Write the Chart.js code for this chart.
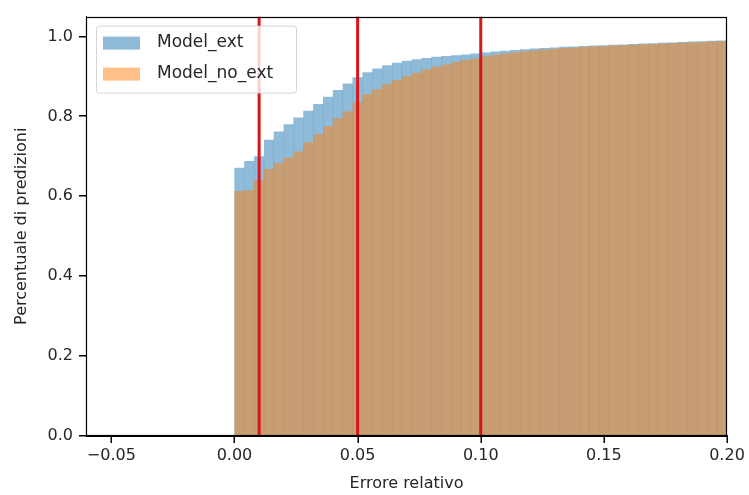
<!DOCTYPE html>
<html>
<head>
<meta charset="utf-8">
<script src="https://cdn.jsdelivr.net/npm/chart.js@4.4.1/dist/chart.umd.min.js"></script>
<style>
  body { margin: 0; background: #fff; }
  #wrap { width: 749px; height: 495px; }
</style>
</head>
<body>
<div id="wrap"><canvas id="chart" width="749" height="495"></canvas></div>
<script>
//histogram bins: width and left edges (cumulative, 50 bins from 0 to 0.2)
const binWidth = 0.004;
const binLefts = [
  0.000, 0.004, 0.008, 0.012, 0.016, 0.020, 0.024, 0.028, 0.032, 0.036,
  0.040, 0.044, 0.048, 0.052, 0.056, 0.060, 0.064, 0.068, 0.072, 0.076,
  0.080, 0.084, 0.088, 0.092, 0.096, 0.100, 0.104, 0.108, 0.112, 0.116,
  0.120, 0.124, 0.128, 0.132, 0.136, 0.140, 0.144, 0.148, 0.152, 0.156,
  0.160, 0.164, 0.168, 0.172, 0.176, 0.180, 0.184, 0.188, 0.192, 0.196
];

//cumulative share of predictions
const modelExt = [
  0.671, 0.688, 0.700, 0.741, 0.762, 0.780, 0.797, 0.814, 0.831, 0.849,
  0.866, 0.882, 0.898, 0.910, 0.920, 0.928, 0.934, 0.939, 0.943, 0.946,
  0.949, 0.951, 0.953, 0.955, 0.957, 0.960, 0.962, 0.964, 0.966, 0.968,
  0.970, 0.971, 0.972, 0.974, 0.975, 0.976, 0.977, 0.978, 0.979, 0.980,
  0.981, 0.982, 0.983, 0.984, 0.985, 0.986, 0.987, 0.988, 0.989, 0.990
];
const modelNoExt = [
  0.613, 0.615, 0.640, 0.668, 0.683, 0.697, 0.712, 0.735, 0.755, 0.775,
  0.795, 0.812, 0.835, 0.855, 0.868, 0.880, 0.891, 0.900, 0.909, 0.917,
  0.924, 0.930, 0.936, 0.941, 0.945, 0.950, 0.954, 0.957, 0.960, 0.963,
  0.965, 0.967, 0.969, 0.971, 0.972, 0.974, 0.975, 0.976, 0.977, 0.978,
  0.979, 0.980, 0.981, 0.982, 0.983, 0.984, 0.985, 0.986, 0.987, 0.988
];

//red reference lines
const thresholds = [0.01, 0.05, 0.10];

//axis ticks and limits
const xTicks = [-0.05, 0.00, 0.05, 0.10, 0.15, 0.20];
const yTicks = [0.0, 0.2, 0.4, 0.6, 0.8, 1.0];
const xMin = -0.0603, xMax = 0.20;
const yMin = 0, yMax = 1.05;

const blueFill = 'rgba(31,119,180,0.5)';
const orangeFill = 'rgba(255,127,14,0.5)';
const redLine = 'rgb(214,22,28)';
const textColor = '#262626';
const fontFamily = '"DejaVu Sans", sans-serif';

const toBars = (values) => values.map((v, i) => ({ x: binLefts[i] + binWidth / 2, y: v }));

const datasets = [
  {
    type: 'bar',
    label: 'Model_ext',
    data: toBars(modelExt),
    backgroundColor: blueFill,
    borderWidth: 0,
    barPercentage: 1,
    categoryPercentage: 1,
    inflateAmount: 0.15,
    grouped: false,
    order: 3,
  },
  {
    type: 'bar',
    label: 'Model_no_ext',
    data: toBars(modelNoExt),
    backgroundColor: orangeFill,
    borderWidth: 0,
    barPercentage: 1,
    categoryPercentage: 1,
    inflateAmount: 0.15,
    grouped: false,
    order: 2,
  },
];

thresholds.forEach((t) => {
  datasets.push({
    type: 'line',
    label: 'threshold',
    data: [{ x: t, y: yMin }, { x: t, y: yMax }],
    borderColor: redLine,
    borderWidth: 3,
    pointRadius: 0,
    fill: false,
    order: 1,
  });
});

//legend box inside the axes, matplotlib style
const innerLegend = {
  id: 'innerLegend',
  afterDatasetsDraw(chart) {
    const ctx = chart.ctx;
    const area = chart.chartArea;
    const items = chart.data.datasets.filter((d) => d.type === 'bar');
    const x0 = area.left + 10, y0 = area.top + 9;
    const w = 200, h = 67;
    ctx.save();
    ctx.fillStyle = 'rgba(255,255,255,0.8)';
    ctx.strokeStyle = 'rgba(204,204,204,0.8)';
    ctx.lineWidth = 1;
    ctx.beginPath();
    ctx.roundRect(x0 + 0.5, y0 + 0.5, w, h, 3);
    ctx.fill();
    ctx.stroke();
    ctx.font = '17px ' + fontFamily;
    ctx.textBaseline = 'middle';
    items.forEach((d, i) => {
      const cy = y0 + 17 + i * 31;
      ctx.fillStyle = d.backgroundColor;
      ctx.fillRect(x0 + 7, cy - 6, 37, 13);
      ctx.fillStyle = textColor;
      ctx.fillText(d.label, x0 + 61, cy);
    });
    ctx.restore();
  },
};

//axes frame and outward tick marks, drawn on top of everything
const axesFrame = {
  id: 'axesFrame',
  afterDraw(chart) {
    const ctx = chart.ctx;
    const a = chart.chartArea;
    const xs = chart.scales.x, ys = chart.scales.y;
    const left = Math.round(a.left), bottom = Math.round(a.bottom);
    ctx.save();
    ctx.globalAlpha = 1;
    ctx.globalCompositeOperation = 'source-over';
    ctx.setLineDash([]);
    ctx.strokeStyle = '#000';
    ctx.lineWidth = 1.2;
    ctx.strokeRect(left + 0.5, Math.round(a.top) + 0.5,
      Math.round(a.right - a.left) - 1, Math.round(a.bottom - a.top) - 1);
    ctx.lineWidth = 1.5;
    ctx.beginPath();
    xTicks.forEach((v) => {
      const px = Math.round(xs.getPixelForValue(v)) + 0.25;
      ctx.moveTo(px, bottom - 1);
      ctx.lineTo(px, bottom + 7);
    });
    yTicks.forEach((v) => {
      const py = Math.round(ys.getPixelForValue(v)) - 0.25;
      ctx.moveTo(left + 1, py);
      ctx.lineTo(left - 7, py);
    });
    ctx.stroke();
    ctx.restore();
  },
};

const axisGrid = {
  display: true,
  offset: false,
  drawOnChartArea: false,
  drawTicks: true,
  tickLength: 6,
  tickColor: 'rgba(0,0,0,0)',
  color: 'rgba(0,0,0,0)',
};

new Chart(document.getElementById('chart'), {
  data: { datasets },
  options: {
    responsive: false,
    animation: false,
    devicePixelRatio: 1,
    layout: { padding: { top: 11, right: 22, left: 0, bottom: 0 } },
    plugins: {
      legend: { display: false },
      tooltip: { enabled: false },
    },
    scales: {
      x: {
        type: 'linear',
        min: xMin,
        max: xMax,
        offset: false,
        afterBuildTicks: (scale) => { scale.ticks = xTicks.map((v) => ({ value: v })); },
        afterFit: (scale) => { scale.height = 59; },
        grid: axisGrid,
        border: { display: true, color: '#000' },
        ticks: {
          color: textColor,
          font: { family: fontFamily, size: 16 },
          padding: 4,
          maxRotation: 0,
          callback: (v) => (v < 0 ? '\u2212' : '') + Math.abs(v).toFixed(2),
        },
        title: {
          display: true,
          text: 'Errore relativo',
          color: textColor,
          font: { family: fontFamily, size: 16 },
          padding: { top: 0, bottom: 2 },
        },
      },
      y: {
        type: 'linear',
        min: yMin,
        max: yMax,
        afterBuildTicks: (scale) => { scale.ticks = yTicks.map((v) => ({ value: v })); },
        afterFit: (scale) => { scale.width = 86; },
        grid: axisGrid,
        border: { display: true, color: '#000' },
        ticks: {
          color: textColor,
          font: { family: fontFamily, size: 16 },
          padding: 7,
          callback: (v) => v.toFixed(1),
        },
        title: {
          display: true,
          text: 'Percentuale di predizioni',
          color: textColor,
          font: { family: fontFamily, size: 16 },
          padding: { top: 12, bottom: 0 },
        },
      },
    },
  },
  plugins: [innerLegend, axesFrame],
});
</script>
</body>
</html>
